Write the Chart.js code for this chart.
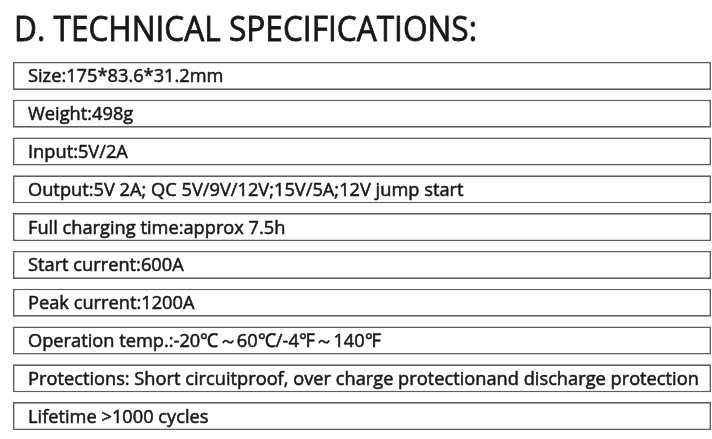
<!DOCTYPE html>
<html>
<head>
<meta charset="utf-8">
<script src="https://cdn.jsdelivr.net/npm/chart.js@4.4.1/dist/chart.umd.min.js"></script>
<style>
  html, body { margin: 0; padding: 0; background: #ffffff; }
  #wrap { position: relative; width: 712px; height: 439px; }
</style>
</head>
<body>
<div id="wrap"><canvas id="c"></canvas></div>
<script>
// ---- data ----
const titleText = "D. TECHNICAL SPECIFICATIONS:";
const specLabels = [
  "Size:175*83.6*31.2mm",
  "Weight:498g",
  "Input:5V/2A",
  "Output:5V 2A; QC 5V/9V/12V;15V/5A;12V jump start",
  "Full charging time:approx 7.5h",
  "Start current:600A",
  "Peak current:1200A",
  "Operation temp.:-20℃～60℃/-4℉～140℉",
  "Protections: Short circuitproof, over charge protectionand discharge protection",
  "Lifetime >1000 cycles"
];
const boxValues = [1, 1, 1, 1, 1, 1, 1, 1, 1, 1];

// ---- style ----
const TEXT_COLOR = "#1a1718";
const ROW_FONT = "19px 'Open Sans'";
const ROW_SCALE = 0.96;
const ROW_STROKE = 0.55;
const TITLE_FONT = "34px 'Open Sans'";
const TITLE_SCALE = 0.93;
const TITLE_STROKE = 0.8;

function drawText(ctx, text, x, y, sx, stroke) {
  ctx.save();
  ctx.translate(x, y);
  ctx.scale(sx, 1);
  ctx.fillText(text, 0, 0);
  ctx.lineWidth = stroke;
  ctx.strokeText(text, 0, 0);
  ctx.restore();
}

const textPlugin = {
  id: "specText",
  afterDatasetsDraw(chart) {
    const ctx = chart.ctx;
    const meta = chart.getDatasetMeta(0);
    ctx.save();
    ctx.fillStyle = TEXT_COLOR;
    ctx.strokeStyle = TEXT_COLOR;
    ctx.lineJoin = "round";
    ctx.textBaseline = "middle";
    ctx.textAlign = "left";
    ctx.font = ROW_FONT;
    meta.data.forEach((bar, i) => {
      drawText(ctx, chart.data.labels[i], bar.base + 15, bar.y + 1, ROW_SCALE, ROW_STROKE);
    });
    ctx.font = TITLE_FONT;
    ctx.textBaseline = "alphabetic";
    drawText(ctx, titleText, 14, 41, TITLE_SCALE, TITLE_STROKE);
    ctx.restore();
  }
};

new Chart(document.getElementById("c"), {
  type: "bar",
  data: {
    labels: specLabels,
    datasets: [{
      data: boxValues,
      backgroundColor: "#ffffff",
      borderColor: "#5e5e5e",
      borderWidth: 1.6,
      borderSkipped: false,
      categoryPercentage: 1,
      barPercentage: 0.74
    }]
  },
  options: {
    indexAxis: "y",
    responsive: true,
    maintainAspectRatio: false,
    animation: false,
    devicePixelRatio: 1,
    layout: { padding: { top: 57, left: 13, right: 1, bottom: 4 } },
    plugins: { legend: { display: false }, title: { display: false }, tooltip: { enabled: false } },
    scales: {
      x: { display: false, min: 0, max: 1 },
      y: { display: false }
    }
  },
  plugins: [textPlugin]
});
</script>
</body>
</html>
